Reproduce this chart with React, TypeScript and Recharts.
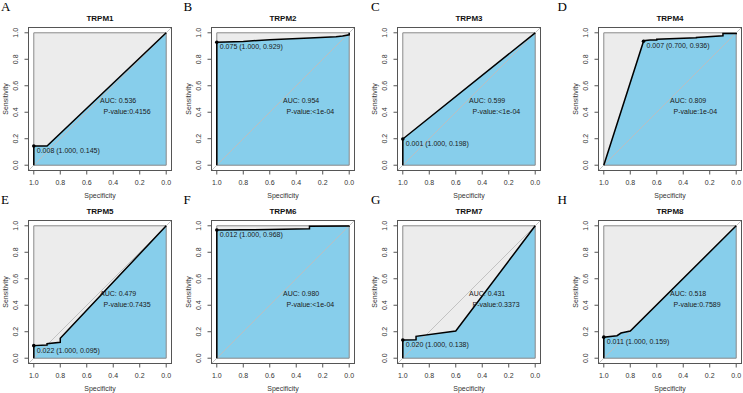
import { ComposedChart, Area, Line, XAxis, YAxis, ReferenceDot } from 'recharts'

const genes = ['TRPM1', 'TRPM2', 'TRPM3', 'TRPM4', 'TRPM5', 'TRPM6', 'TRPM7', 'TRPM8']
const letters = ['A', 'B', 'C', 'D', 'E', 'F', 'G', 'H']
const aucs = ['0.536', '0.954', '0.599', '0.809', '0.479', '0.980', '0.431', '0.518']
const pvals = ['0.4156', '<1e-04', '<1e-04', '1e-04', '0.7435', '<1e-04', '0.3373', '0.7589']
const bestThr = ['0.008', '0.075', '0.001', '0.007', '0.022', '0.012', '0.020', '0.011']
const bestSpec = [1.0, 1.0, 1.0, 0.7, 1.0, 1.0, 1.0, 1.0]
const bestSens = [0.145, 0.929, 0.198, 0.936, 0.095, 0.968, 0.138, 0.159]

// roc curves, specificity / sensitivity pairs
const specs = [
  [1, 1, 0.9, 0],
  [1, 1, 0.8, 0.6, 0.3, 0.1, 0.05, 0, 0],
  [1, 1, 0],
  [1, 0.7, 0.7, 0.65, 0.6, 0.6, 0.3, 0.3, 0.1, 0.1, 0, 0],
  [1, 1, 0.9, 0.9, 0.8, 0.8, 0],
  [1, 1, 0.8, 0.6, 0.4, 0.3, 0.3, 0, 0],
  [1, 1, 0.9, 0.9, 0.6, 0],
  [1, 1, 0.9, 0.87, 0.8, 0],
]
const sens = [
  [0, 0.145, 0.145, 1],
  [0, 0.929, 0.935, 0.948, 0.96, 0.97, 0.975, 0.985, 1],
  [0, 0.198, 1],
  [0, 0.936, 0.94, 0.945, 0.945, 0.952, 0.962, 0.965, 0.977, 0.995, 0.995, 1],
  [0, 0.095, 0.1, 0.11, 0.12, 0.15, 1],
  [0, 0.968, 0.97, 0.972, 0.975, 0.978, 0.997, 0.998, 1],
  [0, 0.138, 0.14, 0.165, 0.205, 1],
  [0, 0.159, 0.17, 0.19, 0.205, 1],
]

// max-auc square and its outline
const squareSpec = [0, 1]
const squareSens = [1, 1]
const frameSpec = [0, 0, 1, 1, 0]
const frameSens = [0, 1, 1, 0, 0]
const ticks = [0, 0.2, 0.4, 0.6, 0.8, 1]

const COLS = [0, 183, 369, 570]
const ROWS = [0, 192.5]
const LETTER_X = [1, 183.5, 371, 557.5]
const W = 175
const H = 200
const TOP = 27.5
const YW = 28.5
const PW = 143
const PH = 143
const FONT = 'Liberation Sans, Arial, sans-serif'

const YTick = (props: any) => {
  const { y, payload } = props
  const x = YW - 10
  return (
    <text x={x} y={y} transform={`rotate(-90, ${x}, ${y})`} textAnchor="middle" fontSize={7} fill="#333" fontFamily={FONT}>
      {payload.value.toFixed(1)}
    </text>
  )
}

const XTick = (props: any) => {
  const { x, payload } = props
  return (
    <text x={x} y={TOP + PH + 14} textAnchor="middle" fontSize={7} fill="#333" fontFamily={FONT}>
      {payload.value.toFixed(1)}
    </text>
  )
}

const Panel = ({ i }: { i: number }) => {
  const data = specs[i].map((s, k) => ({ spec: s, sens: sens[i][k] }))
  const square = squareSpec.map((s, k) => ({ spec: s, sens: squareSens[k] }))
  const frame = frameSpec.map((s, k) => ({ spec: s, sens: frameSens[k] }))
  const diag = [
    { spec: 1.04, sens: -0.04 },
    { spec: -0.04, sens: 1.04 },
  ]
  const left = COLS[i % 4]
  const top = ROWS[Math.floor(i / 4)]
  return (
    <div style={{ position: 'absolute', left, top, width: W, height: H }}>
      <ComposedChart width={W} height={H} data={data} margin={{ top: TOP, right: W - YW - PW, left: 0, bottom: 0 }}>
        <XAxis
          type="number"
          dataKey="spec"
          domain={[-0.04, 1.04]}
          ticks={ticks}
          reversed
          height={H - TOP - PH}
          axisLine={false}
          tickSize={4}
          tickLine={{ stroke: '#555' }}
          tick={<XTick />}
        />
        <YAxis
          type="number"
          dataKey="sens"
          domain={[-0.04, 1.04]}
          ticks={ticks}
          width={YW}
          axisLine={false}
          tickSize={4}
          tickLine={{ stroke: '#555' }}
          tick={<YTick />}
        />
        <Area data={square} dataKey="sens" type="linear" baseValue={0} fill="#ECECEC" fillOpacity={1} stroke="none" isAnimationActive={false} />
        <Area dataKey="sens" type="linear" baseValue={0} fill="#87CEEB" fillOpacity={1} stroke="none" isAnimationActive={false} />
        <Line data={frame} dataKey="sens" type="linear" stroke="#8a8a8a" strokeWidth={1} dot={false} isAnimationActive={false} />
        <Line data={diag} dataKey="sens" type="linear" stroke="#bdbdbd" strokeWidth={0.9} dot={false} isAnimationActive={false} />
        <Line dataKey="sens" type="linear" stroke="#000" strokeWidth={1.5} dot={false} isAnimationActive={false} />
        <ReferenceDot
          x={bestSpec[i]}
          y={bestSens[i]}
          r={1.8}
          shape={(p: any) => (
            <g>
              <circle cx={p.cx} cy={p.cy} r={1.8} fill="#000" />
              <text x={p.cx + 3} y={p.cy + 7} fontSize={7} fill="#1a1a1a" fontFamily={FONT}>
                {`${bestThr[i]} (${bestSpec[i].toFixed(3)}, ${bestSens[i].toFixed(3)})`}
              </text>
            </g>
          )}
        />
        <ReferenceDot
          x={0.5}
          y={0.47}
          r={0}
          shape={(p: any) => (
            <g>
              <text x={p.cx} y={p.cy} fontSize={7} fill="#1a1a1a" fontFamily={FONT}>
                {`AUC: ${aucs[i]}`}
              </text>
              <text x={p.cx + 3.5} y={p.cy + 11} fontSize={7} fill="#1a1a1a" fontFamily={FONT}>
                {`P-value:${pvals[i]}`}
              </text>
            </g>
          )}
        />
      </ComposedChart>
      <svg width={W} height={H} style={{ position: 'absolute', left: 0, top: 0, overflow: 'visible', pointerEvents: 'none' }}>
        <rect x={YW} y={TOP} width={PW} height={PH} fill="none" stroke="#555" strokeWidth={1} />
        <text x={LETTER_X[i % 4] - left} y={11} fontSize={13} fontFamily="Liberation Serif, Times New Roman, serif" fill="#000">
          {letters[i]}
        </text>
        <text x={YW + PW / 2} y={20.8} textAnchor="middle" fontSize={8} fontWeight="bold" fontFamily={FONT} fill="#111">
          {genes[i]}
        </text>
        <text x={YW + PW / 2} y={198} textAnchor="middle" fontSize={7} fontFamily={FONT} fill="#333">
          Specificity
        </text>
        <text
          x={7.5}
          y={TOP + PH / 2}
          transform={`rotate(-90, 7.5, ${TOP + PH / 2})`}
          textAnchor="middle"
          fontSize={7}
          fontFamily={FONT}
          fill="#333"
        >
          Sensitivity
        </text>
      </svg>
    </div>
  )
}

export default function App() {
  return (
    <div style={{ position: 'absolute', left: 0, top: 0, width: 743, height: 393, overflow: 'hidden', background: '#fff' }}>
      {genes.map((_, i) => (
        <Panel key={i} i={i} />
      ))}
    </div>
  )
}
